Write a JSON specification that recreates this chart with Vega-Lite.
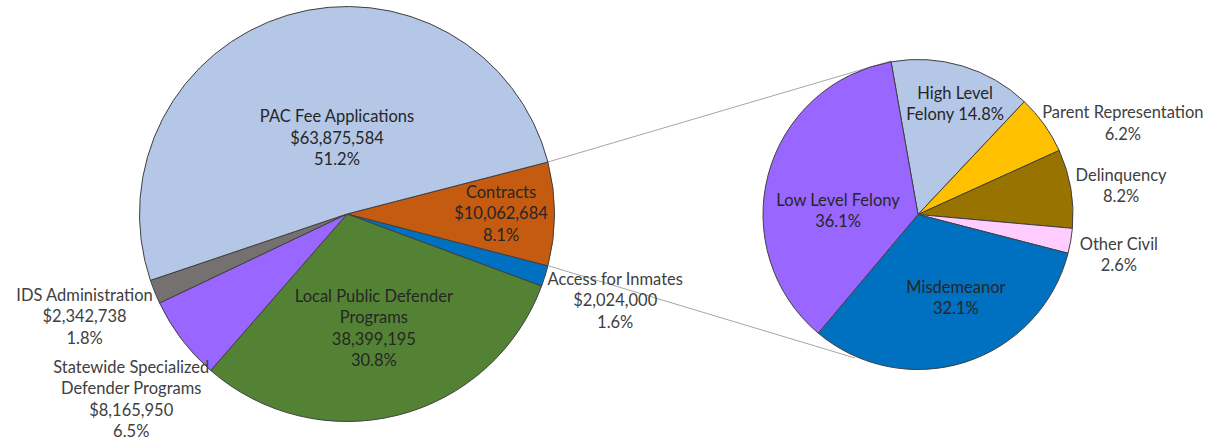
{
  "$schema": "https://vega.github.io/schema/vega-lite/v6.json",
  "width": 1213,
  "height": 442,
  "padding": 0,
  "autosize": "none",
  "background": "white",
  "config": {"view": {"stroke": null}},
  "datasets": {
    "main": [
      {"pie": "main", "seq": 1, "name": "Contracts", "value": 10062684, "label": "Contracts\n$10,062,684\n8.1%"},
      {"pie": "main", "seq": 2, "name": "Access for Inmates", "value": 2024000, "label": "Access for Inmates\n$2,024,000\n1.6%"},
      {"pie": "main", "seq": 3, "name": "Local Public Defender Programs", "value": 38399195, "label": "Local Public Defender\nPrograms\n38,399,195\n30.8%"},
      {"pie": "main", "seq": 4, "name": "Statewide Specialized Defender Programs", "value": 8165950, "label": "Statewide Specialized\nDefender Programs\n$8,165,950\n6.5%"},
      {"pie": "main", "seq": 5, "name": "IDS Administration", "value": 2342738, "label": "IDS Administration\n$2,342,738\n1.8%"},
      {"pie": "main", "seq": 6, "name": "PAC Fee Applications", "value": 63875584, "label": "PAC Fee Applications\n$63,875,584\n51.2%"}
    ],
    "detail": [
      {"pie": "detail", "seq": 1, "name": "High Level Felony", "value": 14.8, "label": "High Level\nFelony 14.8%"},
      {"pie": "detail", "seq": 2, "name": "Parent Representation", "value": 6.2, "label": "Parent Representation\n6.2%"},
      {"pie": "detail", "seq": 3, "name": "Delinquency", "value": 8.2, "label": "Delinquency\n8.2%"},
      {"pie": "detail", "seq": 4, "name": "Other Civil", "value": 2.6, "label": "Other Civil\n2.6%"},
      {"pie": "detail", "seq": 5, "name": "Misdemeanor", "value": 32.1, "label": "Misdemeanor\n32.1%"},
      {"pie": "detail", "seq": 6, "name": "Low Level Felony", "value": 36.1, "label": "Low Level Felony\n36.1%"}
    ],
    "connectors": [
      {"x": 548, "y": 162, "x2": 891, "y2": 61},
      {"x": 549, "y": 266, "x2": 855, "y2": 358}
    ]
  },
  "resolve": {"scale": {"x": "independent", "y": "independent", "theta": "independent"}},
  "layer": [
    {
      "data": {"name": "connectors"},
      "mark": {"type": "rule", "stroke": "#a6a6a6", "strokeWidth": 1},
      "encoding": {
        "x": {"field": "x", "type": "quantitative", "scale": {"domain": [0, 1213], "nice": false}, "axis": null},
        "x2": {"field": "x2"},
        "y": {"field": "y", "type": "quantitative", "scale": {"domain": [0, 442], "nice": false, "reverse": true}, "axis": null},
        "y2": {"field": "y2"}
      }
    },
    {
      "data": {"name": "main"},
      "mark": {"type": "arc", "radius": 207.5, "stroke": "#404040", "strokeWidth": 1},
      "encoding": {
        "x": {"field": "pie", "type": "nominal", "scale": {"type": "point", "domain": ["main", "detail"], "range": [347, 918], "padding": 0}, "axis": null},
        "y": {"field": "pie", "type": "nominal", "scale": {"type": "point", "domain": ["main", "detail"], "range": [214, 214.5], "padding": 0}, "axis": null},
        "theta": {"field": "value", "type": "quantitative", "stack": true, "scale": {"range": [1.3177, 7.6009]}},
        "order": {"field": "seq", "type": "quantitative"},
        "color": {"field": "name", "type": "nominal", "legend": null, "scale": {
          "domain": ["PAC Fee Applications", "Contracts", "Access for Inmates", "Local Public Defender Programs", "Statewide Specialized Defender Programs", "IDS Administration", "High Level Felony", "Parent Representation", "Delinquency", "Other Civil", "Misdemeanor", "Low Level Felony"],
          "range": ["#b4c7e7", "#c55a11", "#0070c0", "#548235", "#9966ff", "#767171", "#b4c7e7", "#ffc000", "#997300", "#ffccff", "#0070c0", "#9966ff"]}}
      }
    },
    {
      "data": {"name": "detail"},
      "mark": {"type": "arc", "radius": 155, "stroke": "#404040", "strokeWidth": 1},
      "encoding": {
        "x": {"field": "pie", "type": "nominal", "scale": {"type": "point", "domain": ["main", "detail"], "range": [347, 918], "padding": 0}, "axis": null},
        "y": {"field": "pie", "type": "nominal", "scale": {"type": "point", "domain": ["main", "detail"], "range": [214, 214.5], "padding": 0}, "axis": null},
        "theta": {"field": "value", "type": "quantitative", "stack": true, "scale": {"range": [-0.1745, 6.1087]}},
        "order": {"field": "seq", "type": "quantitative"},
        "color": {"field": "name", "type": "nominal", "legend": null, "scale": {
          "domain": ["PAC Fee Applications", "Contracts", "Access for Inmates", "Local Public Defender Programs", "Statewide Specialized Defender Programs", "IDS Administration", "High Level Felony", "Parent Representation", "Delinquency", "Other Civil", "Misdemeanor", "Low Level Felony"],
          "range": ["#b4c7e7", "#c55a11", "#0070c0", "#548235", "#9966ff", "#767171", "#b4c7e7", "#ffc000", "#997300", "#ffccff", "#0070c0", "#9966ff"]}}
      }
    },
    {
      "data": {"name": "main"},
      "mark": {"type": "text", "radius": 76, "thetaOffset": 0.157, "dy": -21.5, "font": "Lato", "fontSize": 16.5, "lineBreak": "\n", "lineHeight": 21.5, "fill": "#262626", "align": "center", "baseline": "middle"},
      "encoding": {
        "x": {"field": "pie", "type": "nominal", "scale": {"type": "point", "domain": ["main", "detail"], "range": [347, 918], "padding": 0}, "axis": null},
        "y": {"field": "pie", "type": "nominal", "scale": {"type": "point", "domain": ["main", "detail"], "range": [214, 214.5], "padding": 0}, "axis": null},
        "theta": {"field": "value", "type": "quantitative", "stack": true, "scale": {"range": [1.3177, 7.6009]}},
        "order": {"field": "seq", "type": "quantitative"},
        "detail": {"field": "name", "type": "nominal"},
        "text": {"condition": {"test": "datum.name === 'PAC Fee Applications'", "field": "label", "type": "nominal"}, "value": ""}
      }
    },
    {
      "data": {"name": "main"},
      "mark": {"type": "text", "radius": 154, "dy": -21.5, "font": "Lato", "fontSize": 16.5, "lineBreak": "\n", "lineHeight": 21.5, "fill": "#262626", "align": "center", "baseline": "middle"},
      "encoding": {
        "x": {"field": "pie", "type": "nominal", "scale": {"type": "point", "domain": ["main", "detail"], "range": [347, 918], "padding": 0}, "axis": null},
        "y": {"field": "pie", "type": "nominal", "scale": {"type": "point", "domain": ["main", "detail"], "range": [214, 214.5], "padding": 0}, "axis": null},
        "theta": {"field": "value", "type": "quantitative", "stack": true, "scale": {"range": [1.3177, 7.6009]}},
        "order": {"field": "seq", "type": "quantitative"},
        "detail": {"field": "name", "type": "nominal"},
        "text": {"condition": {"test": "datum.name === 'Contracts'", "field": "label", "type": "nominal"}, "value": ""}
      }
    },
    {
      "data": {"name": "main"},
      "mark": {"type": "text", "radius": 118, "thetaOffset": 0.02, "dy": -32.25, "font": "Lato", "fontSize": 16.5, "lineBreak": "\n", "lineHeight": 21.5, "fill": "#262626", "align": "center", "baseline": "middle"},
      "encoding": {
        "x": {"field": "pie", "type": "nominal", "scale": {"type": "point", "domain": ["main", "detail"], "range": [347, 918], "padding": 0}, "axis": null},
        "y": {"field": "pie", "type": "nominal", "scale": {"type": "point", "domain": ["main", "detail"], "range": [214, 214.5], "padding": 0}, "axis": null},
        "theta": {"field": "value", "type": "quantitative", "stack": true, "scale": {"range": [1.3177, 7.6009]}},
        "order": {"field": "seq", "type": "quantitative"},
        "detail": {"field": "name", "type": "nominal"},
        "text": {"condition": {"test": "datum.name === 'Local Public Defender Programs'", "field": "label", "type": "nominal"}, "value": ""}
      }
    },
    {
      "data": {"name": "main"},
      "mark": {"type": "text", "radius": 282, "thetaOffset": 0.01, "dy": -21.5, "font": "Lato", "fontSize": 16.5, "lineBreak": "\n", "lineHeight": 21.5, "fill": "#404040", "align": "center", "baseline": "middle"},
      "encoding": {
        "x": {"field": "pie", "type": "nominal", "scale": {"type": "point", "domain": ["main", "detail"], "range": [347, 918], "padding": 0}, "axis": null},
        "y": {"field": "pie", "type": "nominal", "scale": {"type": "point", "domain": ["main", "detail"], "range": [214, 214.5], "padding": 0}, "axis": null},
        "theta": {"field": "value", "type": "quantitative", "stack": true, "scale": {"range": [1.3177, 7.6009]}},
        "order": {"field": "seq", "type": "quantitative"},
        "detail": {"field": "name", "type": "nominal"},
        "text": {"condition": {"test": "datum.name === 'Access for Inmates' || datum.name === 'IDS Administration'", "field": "label", "type": "nominal"}, "value": ""}
      }
    },
    {
      "data": {"name": "main"},
      "mark": {"type": "text", "radius": 285, "thetaOffset": -0.063, "dy": -32.25, "font": "Lato", "fontSize": 16.5, "lineBreak": "\n", "lineHeight": 21.5, "fill": "#404040", "align": "center", "baseline": "middle"},
      "encoding": {
        "x": {"field": "pie", "type": "nominal", "scale": {"type": "point", "domain": ["main", "detail"], "range": [347, 918], "padding": 0}, "axis": null},
        "y": {"field": "pie", "type": "nominal", "scale": {"type": "point", "domain": ["main", "detail"], "range": [214, 214.5], "padding": 0}, "axis": null},
        "theta": {"field": "value", "type": "quantitative", "stack": true, "scale": {"range": [1.3177, 7.6009]}},
        "order": {"field": "seq", "type": "quantitative"},
        "detail": {"field": "name", "type": "nominal"},
        "text": {"condition": {"test": "datum.name === 'Statewide Specialized Defender Programs'", "field": "label", "type": "nominal"}, "value": ""}
      }
    },
    {
      "data": {"name": "detail"},
      "mark": {"type": "text", "radius": 116, "thetaOffset": 0.035, "dy": -10.75, "font": "Lato", "fontSize": 16.5, "lineBreak": "\n", "lineHeight": 21.5, "fill": "#262626", "align": "center", "baseline": "middle"},
      "encoding": {
        "x": {"field": "pie", "type": "nominal", "scale": {"type": "point", "domain": ["main", "detail"], "range": [347, 918], "padding": 0}, "axis": null},
        "y": {"field": "pie", "type": "nominal", "scale": {"type": "point", "domain": ["main", "detail"], "range": [214, 214.5], "padding": 0}, "axis": null},
        "theta": {"field": "value", "type": "quantitative", "stack": true, "scale": {"range": [-0.1745, 6.1087]}},
        "order": {"field": "seq", "type": "quantitative"},
        "detail": {"field": "name", "type": "nominal"},
        "text": {"condition": {"test": "datum.name === 'High Level Felony'", "field": "label", "type": "nominal"}, "value": ""}
      }
    },
    {
      "data": {"name": "detail"},
      "mark": {"type": "text", "radius": 224, "thetaOffset": 0.204, "dy": -10.75, "font": "Lato", "fontSize": 16.5, "lineBreak": "\n", "lineHeight": 21.5, "fill": "#404040", "align": "center", "baseline": "middle"},
      "encoding": {
        "x": {"field": "pie", "type": "nominal", "scale": {"type": "point", "domain": ["main", "detail"], "range": [347, 918], "padding": 0}, "axis": null},
        "y": {"field": "pie", "type": "nominal", "scale": {"type": "point", "domain": ["main", "detail"], "range": [214, 214.5], "padding": 0}, "axis": null},
        "theta": {"field": "value", "type": "quantitative", "stack": true, "scale": {"range": [-0.1745, 6.1087]}},
        "order": {"field": "seq", "type": "quantitative"},
        "detail": {"field": "name", "type": "nominal"},
        "text": {"condition": {"test": "datum.name === 'Parent Representation'", "field": "label", "type": "nominal"}, "value": ""}
      }
    },
    {
      "data": {"name": "detail"},
      "mark": {"type": "text", "radius": 205, "thetaOffset": 0.03, "dy": -10.75, "font": "Lato", "fontSize": 16.5, "lineBreak": "\n", "lineHeight": 21.5, "fill": "#404040", "align": "center", "baseline": "middle"},
      "encoding": {
        "x": {"field": "pie", "type": "nominal", "scale": {"type": "point", "domain": ["main", "detail"], "range": [347, 918], "padding": 0}, "axis": null},
        "y": {"field": "pie", "type": "nominal", "scale": {"type": "point", "domain": ["main", "detail"], "range": [214, 214.5], "padding": 0}, "axis": null},
        "theta": {"field": "value", "type": "quantitative", "stack": true, "scale": {"range": [-0.1745, 6.1087]}},
        "order": {"field": "seq", "type": "quantitative"},
        "detail": {"field": "name", "type": "nominal"},
        "text": {"condition": {"test": "datum.name === 'Delinquency' || datum.name === 'Other Civil'", "field": "label", "type": "nominal"}, "value": ""}
      }
    },
    {
      "data": {"name": "detail"},
      "mark": {"type": "text", "radius": 92, "thetaOffset": -0.115, "dy": -10.75, "font": "Lato", "fontSize": 16.5, "lineBreak": "\n", "lineHeight": 21.5, "fill": "#262626", "align": "center", "baseline": "middle"},
      "encoding": {
        "x": {"field": "pie", "type": "nominal", "scale": {"type": "point", "domain": ["main", "detail"], "range": [347, 918], "padding": 0}, "axis": null},
        "y": {"field": "pie", "type": "nominal", "scale": {"type": "point", "domain": ["main", "detail"], "range": [214, 214.5], "padding": 0}, "axis": null},
        "theta": {"field": "value", "type": "quantitative", "stack": true, "scale": {"range": [-0.1745, 6.1087]}},
        "order": {"field": "seq", "type": "quantitative"},
        "detail": {"field": "name", "type": "nominal"},
        "text": {"condition": {"test": "datum.name === 'Misdemeanor'", "field": "label", "type": "nominal"}, "value": ""}
      }
    },
    {
      "data": {"name": "detail"},
      "mark": {"type": "text", "radius": 80, "thetaOffset": -0.227, "dy": -10.75, "font": "Lato", "fontSize": 16.5, "lineBreak": "\n", "lineHeight": 21.5, "fill": "#262626", "align": "center", "baseline": "middle"},
      "encoding": {
        "x": {"field": "pie", "type": "nominal", "scale": {"type": "point", "domain": ["main", "detail"], "range": [347, 918], "padding": 0}, "axis": null},
        "y": {"field": "pie", "type": "nominal", "scale": {"type": "point", "domain": ["main", "detail"], "range": [214, 214.5], "padding": 0}, "axis": null},
        "theta": {"field": "value", "type": "quantitative", "stack": true, "scale": {"range": [-0.1745, 6.1087]}},
        "order": {"field": "seq", "type": "quantitative"},
        "detail": {"field": "name", "type": "nominal"},
        "text": {"condition": {"test": "datum.name === 'Low Level Felony'", "field": "label", "type": "nominal"}, "value": ""}
      }
    }
  ]
}
